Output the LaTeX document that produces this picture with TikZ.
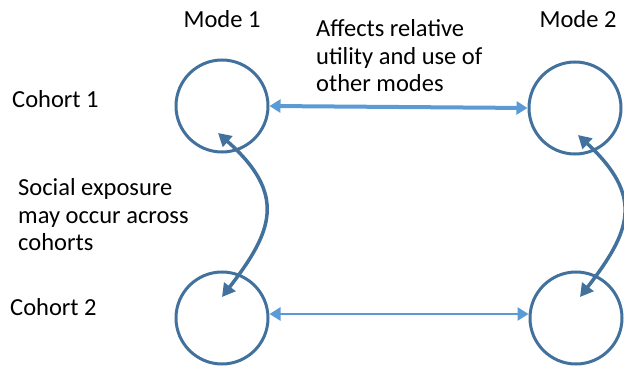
\documentclass[tikz,border=0pt]{standalone}
\usepackage{fontspec}
\setmainfont{Carlito}
\usetikzlibrary{arrows.meta}
\definecolor{ringblue}{HTML}{41719C}
\definecolor{linkblue}{HTML}{5B9BD5}
\begin{document}
\begin{tikzpicture}[x=1pt,y=-1pt,
  ring/.style={circle,draw=ringblue,line width=3pt,minimum size=92pt,inner sep=0pt},
  lbl/.style={anchor=base west,inner sep=0pt,font=\fontsize{24.5}{27.5}\selectfont,align=left},
  head/.style={anchor=base,inner sep=0pt,font=\fontsize{24.5}{27.5}\selectfont},
  modelink/.style={draw=linkblue,{Triangle[length=11pt,width=13pt]}-{Triangle[length=11pt,width=13pt]}},
  cohortlink/.style={draw=ringblue,line width=3.5pt,{Triangle[length=13pt,width=14pt]}-{Triangle[length=13pt,width=14pt]}}]
  \useasboundingbox (0,0) rectangle (624,366);

  % mode circles, one row per cohort
  \node[ring] (a1) at (222,106) {};
  \node[ring] (b1) at (575,108) {};
  \node[ring] (a2) at (222,318) {};
  \node[ring] (b2) at (576,318) {};

  % column and row headings
  \node[head] (m1) at (222,28) {Mode 1};
  \node[head] (m2) at (578,28) {Mode 2};
  \node[lbl] (h1) at (12,108) {Cohort 1};
  \node[lbl] (h2) at (10,316) {Cohort 2};

  % notes (anchored at the baseline of their last line)
  \node[lbl] (n1) at (316,92) {Affects relative\\utility and use of\\other modes};
  \node[lbl] (n2) at (18,251) {Social exposure\\may occur across\\cohorts};

  % links between modes within a cohort
  \draw[modelink,line width=4pt] (a1.east) -- (b1.west);
  \draw[modelink,line width=2.5pt] ([yshift=4pt]a2.east) -- ([yshift=4pt]b2.west);

  % links between cohorts
  \coordinate (p1) at (218,133);
  \coordinate (q1) at (222,297);
  \coordinate (p2) at (578,135);
  \coordinate (q2) at (580,297);
  \draw[cohortlink] (p1) .. controls (288,195) and (272,232) .. (q1);
  \draw[cohortlink] (p2) .. controls (645,197) and (630,232) .. (q2);
\end{tikzpicture}
\end{document}
